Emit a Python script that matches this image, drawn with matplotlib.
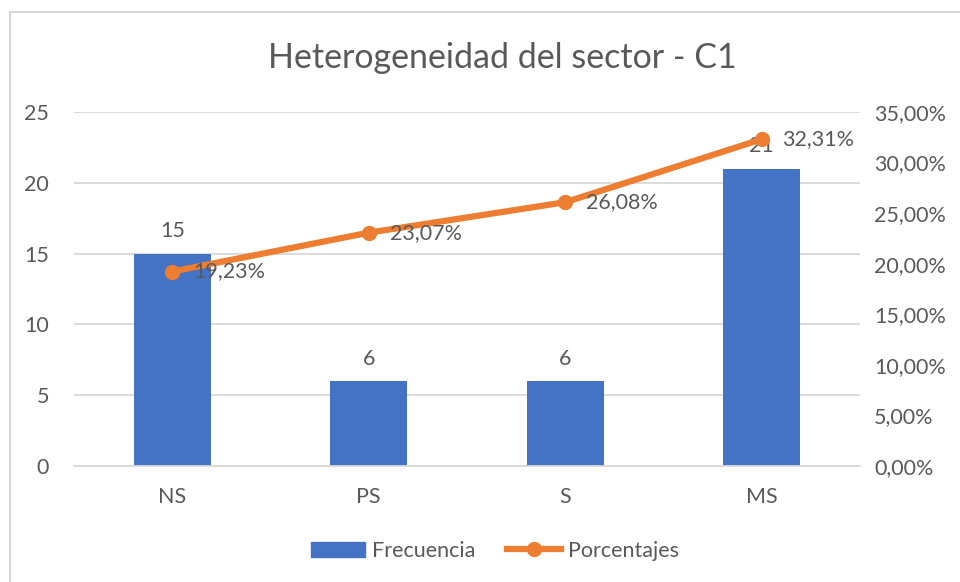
import matplotlib
matplotlib.use("Agg")
import matplotlib.pyplot as plt
from matplotlib.patches import Rectangle
from matplotlib.lines import Line2D
from matplotlib.ticker import FuncFormatter

categories = ["NS", "PS", "S", "MS"]
frecuencia = [15, 6, 6, 21]
porcentajes = [19.23, 23.07, 26.08, 32.31]
left_ticks = [0, 5, 10, 15, 20, 25]
right_ticks = [0, 5, 10, 15, 20, 25, 30, 35]

BLUE = "#4472C4"
ORANGE = "#ED7D31"
GRAY = "#595959"
GRID = "#D9D9D9"
FONT = ["Lato", "DejaVu Sans"]
FS = 15.5

plt.rcParams["font.family"] = FONT

fig = plt.figure(figsize=(9.6, 5.82), dpi=100)
fig.patch.set_facecolor("white")

# chart border
fig.patches.append(Rectangle((10 / 960, -0.01), 1.0, 1 - 12 / 582 + 0.01,
                             transform=fig.transFigure, fill=False,
                             edgecolor="#D0D0D0", linewidth=1.2))

ax = fig.add_axes([74 / 960, 1 - 466 / 582, (860 - 74) / 960, (466 - 112) / 582])
x = list(range(len(categories)))
ax.bar(x, frecuencia, width=0.39, color=BLUE, zorder=2)
ax.set_xlim(-0.5, len(categories) - 0.5)
ax.set_ylim(0, 25)
ax.set_yticks(left_ticks)
ax.set_xticks(x)
ax.set_xticklabels(categories)
ax.yaxis.grid(True, color=GRID, linewidth=1.3, zorder=0)
ax.set_axisbelow(True)
for s in ax.spines.values():
    s.set_visible(False)
ax.spines["bottom"].set_visible(True)
ax.spines["bottom"].set_color(GRID)
ax.spines["bottom"].set_linewidth(1.3)
ax.tick_params(axis="both", length=0, colors=GRAY, labelsize=FS)
ax.tick_params(axis="x", pad=15)
ax.tick_params(axis="y", pad=18)

for xi, v in zip(x, frecuencia):
    ax.annotate(str(v), (xi, v), xytext=(0, 9), textcoords="offset points",
                ha="center", va="bottom", color=GRAY, fontsize=FS, zorder=5)

ax2 = ax.twinx()
ax2.set_ylim(0, 35)
ax2.set_yticks(right_ticks)
ax2.yaxis.set_major_formatter(FuncFormatter(lambda v, p: f"{v:.2f}".replace(".", ",") + "%"))
for s in ax2.spines.values():
    s.set_visible(False)
ax2.tick_params(axis="y", length=0, colors=GRAY, labelsize=FS, pad=10)
ax2.plot(x, porcentajes, color=ORANGE, linewidth=4.5, marker="o", markersize=10,
         solid_capstyle="round", zorder=3)
for xi, v in zip(x, porcentajes):
    ax2.annotate(f"{v:.2f}".replace(".", ",") + "%", (xi, v), xytext=(15, 0),
                 textcoords="offset points", ha="left", va="center",
                 color=GRAY, fontsize=FS)

fig.text(502 / 960, 1 - 58 / 582, "Heterogeneidad del sector - C1", ha="center", va="center",
         fontsize=24.5, color=GRAY)

handles = [Rectangle((0, 0), 1, 1, color=BLUE),
           Line2D([0], [0], color=ORANGE, linewidth=4.5, marker="o", markersize=10)]
fig.legend(handles, ["Frecuencia", "Porcentajes"], loc="center",
           bbox_to_anchor=(495 / 960, 1 - 551 / 582), ncol=2, frameon=False,
           fontsize=FS, labelcolor=GRAY, handlelength=2.5, handletextpad=0.3,
           columnspacing=1.5)

fig.savefig("out.png", dpi=100)
